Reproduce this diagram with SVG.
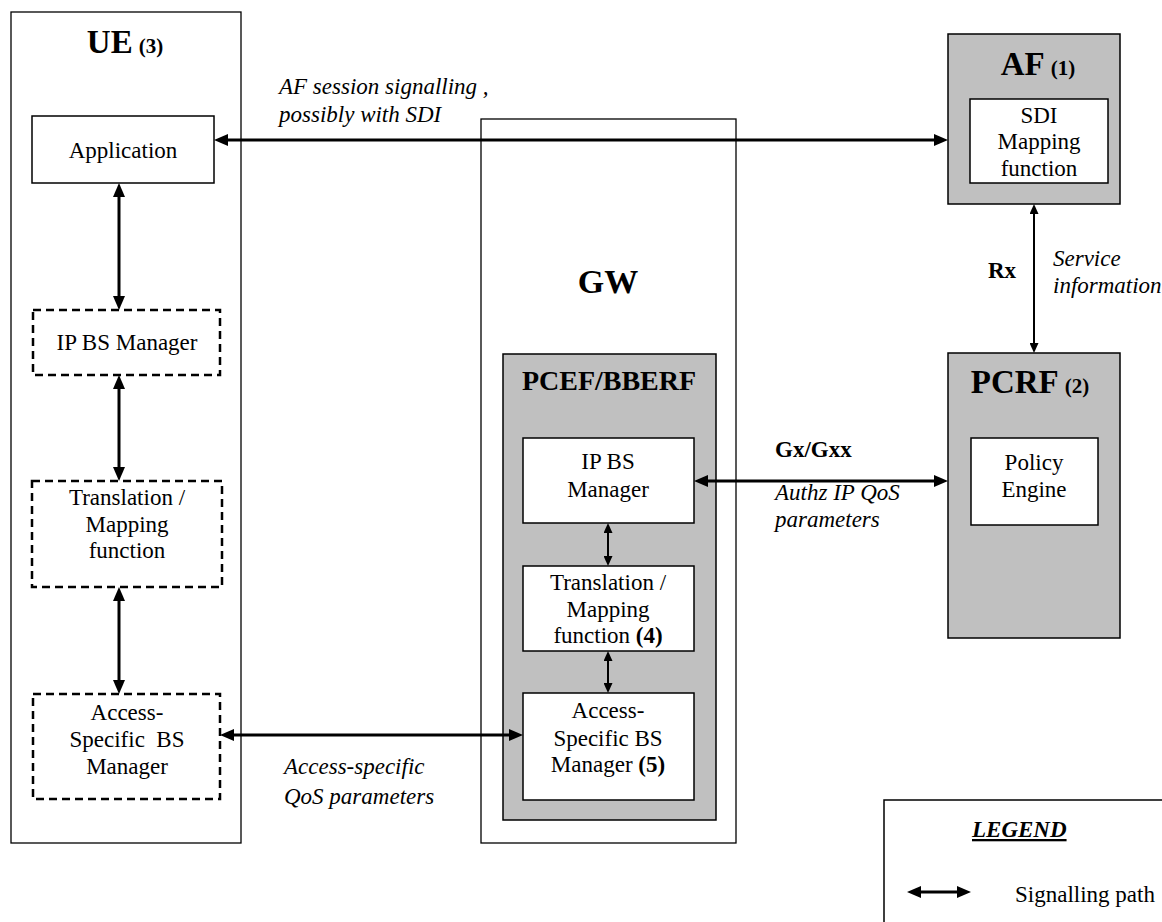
<svg xmlns="http://www.w3.org/2000/svg" width="1162" height="922" viewBox="0 0 1162 922">
<style>
text{font-family:"Liberation Serif","Times New Roman",serif;font-size:23px;fill:#000}
.b{font-weight:bold}
.i{font-style:italic}
.c{text-anchor:middle}
.t34{font-size:34px}
.t33{font-size:33px}
.t28{font-size:28px}
.t21{font-size:21px}
.outer{fill:#fff;stroke:#000;stroke-width:1.3}
.grey{fill:#c0c0c0;stroke:#000;stroke-width:1.5}
.inner{fill:#fff;stroke:#000;stroke-width:1.5}
.dash{fill:#fff;stroke:#000;stroke-width:2.5;stroke-dasharray:8 5}
.thick{stroke:#000;stroke-width:3;fill:none;marker-start:url(#ah);marker-end:url(#ah)}
.thin{stroke:#000;stroke-width:2;fill:none;marker-start:url(#as);marker-end:url(#as)}
</style>
<defs>
<marker id="ah" markerUnits="userSpaceOnUse" markerWidth="14" markerHeight="12" refX="8" refY="6" orient="auto-start-reverse"><path d="M0,0 L14,6 L0,12 z" fill="#000"/></marker>
<marker id="as" markerUnits="userSpaceOnUse" markerWidth="10" markerHeight="9" refX="6" refY="4.5" orient="auto-start-reverse"><path d="M0,0 L10,4.5 L0,9 z" fill="#000"/></marker>
</defs>
<rect width="1162" height="922" fill="#fff"/>

<g id="UE">
<rect class="outer" x="11" y="12" width="230" height="831"/>
<text class="b c" x="125" y="53"><tspan class="t33">UE</tspan><tspan class="t21" dx="6">(3)</tspan></text>
</g>
<g id="UE-Application">
<rect class="inner" x="32" y="116" width="182" height="67"/>
<text class="c" x="123" y="158">Application</text>
</g>
<g id="UE-IPBS">
<rect class="dash" x="33" y="310" width="187" height="65"/>
<text class="c" x="127" y="350">IP BS Manager</text>
</g>
<g id="UE-Translation">
<rect class="dash" x="32" y="481" width="190" height="106"/>
<text class="c" x="127" y="505">Translation /</text>
<text class="c" x="127" y="532">Mapping</text>
<text class="c" x="127" y="558">function</text>
</g>
<g id="UE-Access">
<rect class="dash" x="33" y="694" width="187" height="105"/>
<text class="c" x="127" y="720">Access-</text>
<text class="c" x="127" y="747" xml:space="preserve">Specific  BS</text>
<text class="c" x="127" y="774">Manager</text>
</g>

<g id="GW">
<rect class="outer" x="481" y="119" width="255" height="724"/>
<text class="b c t34" x="608" y="293">GW</text>
</g>
<g id="PCEF">
<rect class="grey" x="503" y="354" width="213" height="466"/>
<text class="b c t28" x="609" y="390">PCEF/BBERF</text>
</g>
<g id="PCEF-IPBS">
<rect class="inner" x="523" y="438" width="171" height="85"/>
<text class="c" x="608" y="469">IP BS</text>
<text class="c" x="608" y="497">Manager</text>
</g>
<g id="PCEF-Translation">
<rect class="inner" x="523" y="566" width="171" height="85"/>
<text class="c" x="608" y="590">Translation /</text>
<text class="c" x="608" y="617">Mapping</text>
<text class="c" x="608" y="643">function <tspan class="b">(4)</tspan></text>
</g>
<g id="PCEF-Access">
<rect class="inner" x="523" y="693" width="171" height="107"/>
<text class="c" x="608" y="718">Access-</text>
<text class="c" x="608" y="746">Specific BS</text>
<text class="c" x="608" y="772">Manager <tspan class="b">(5)</tspan></text>
</g>

<g id="AF">
<rect class="grey" x="948" y="34" width="172" height="170"/>
<text class="b c" x="1038" y="75"><tspan class="t33">AF</tspan><tspan class="t21" dx="6">(1)</tspan></text>
</g>
<g id="AF-SDI">
<rect class="inner" x="970" y="99" width="138" height="84"/>
<text class="c" x="1039" y="123">SDI</text>
<text class="c" x="1039" y="149">Mapping</text>
<text class="c" x="1039" y="176">function</text>
</g>

<g id="PCRF">
<rect class="grey" x="948" y="353" width="172" height="285"/>
<text class="b c" x="1030" y="393"><tspan class="t33">PCRF</tspan><tspan class="t21" dx="6">(2)</tspan></text>
</g>
<g id="PCRF-Policy">
<rect class="inner" x="971" y="438" width="127" height="87"/>
<text class="c" x="1034" y="470">Policy</text>
<text class="c" x="1034" y="497">Engine</text>
</g>

<g id="connectors">
<line class="thick" x1="220" y1="140" x2="942" y2="140"/>
<line class="thick" x1="119" y1="189" x2="119" y2="304"/>
<line class="thick" x1="119" y1="381" x2="119" y2="475"/>
<line class="thick" x1="119" y1="593" x2="119" y2="688"/>
<line class="thick" x1="226" y1="735" x2="517" y2="735"/>
<line class="thick" x1="700" y1="481" x2="942" y2="481"/>
<line class="thin" x1="608" y1="527" x2="608" y2="562"/>
<line class="thin" x1="608" y1="655" x2="608" y2="689"/>
<line class="thin" x1="1034" y1="208" x2="1034" y2="349"/>
</g>

<g id="labels">
<text class="i" x="279" y="94">AF session signalling ,</text>
<text class="i" x="279" y="122">possibly with SDI</text>
<text class="b" x="988" y="278">Rx</text>
<text class="i" x="1053" y="266">Service</text>
<text class="i" x="1053" y="293">information</text>
<text class="b" x="775" y="457">Gx/Gxx</text>
<text class="i" x="775" y="500">Authz IP QoS</text>
<text class="i" x="775" y="527">parameters</text>
<text class="i" x="284" y="774">Access-specific</text>
<text class="i" x="284" y="804">QoS parameters</text>
</g>

<g id="legend">
<rect class="outer" x="884" y="800" width="300" height="150" style="stroke-width:1.5"/>
<text class="b i" x="972" y="837" text-decoration="underline">LEGEND</text>
<line class="thick" x1="913" y1="892" x2="965" y2="892"/>
<text x="1015" y="902">Signalling path</text>
</g>
</svg>
